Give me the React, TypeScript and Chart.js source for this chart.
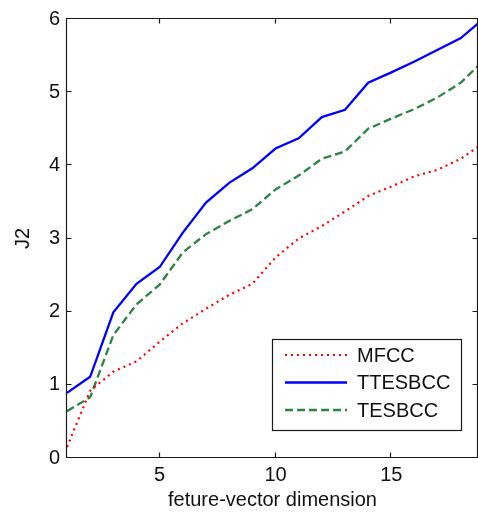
import { useEffect, useRef } from "react";
import { Chart, registerables } from "chart.js";

Chart.register(...registerables);

// Feature-vector dimension (x) and J2 separability for each feature set
const DIMS = [1, 2, 3, 4, 5, 6, 7, 8, 9, 10, 11, 12, 13, 14, 15, 16, 17, 18, 19];
const MFCC = [0.15, 0.92, 1.18, 1.32, 1.59, 1.84, 2.04, 2.23, 2.38, 2.74, 3.0, 3.17, 3.37, 3.58, 3.71, 3.85, 3.94, 4.09, 4.31];
const TTESBCC = [0.89, 1.11, 1.99, 2.38, 2.61, 3.08, 3.49, 3.76, 3.96, 4.23, 4.37, 4.66, 4.76, 5.13, 5.27, 5.42, 5.58, 5.74, 6.01];
const TESBCC = [0.64, 0.83, 1.68, 2.1, 2.37, 2.81, 3.06, 3.24, 3.4, 3.67, 3.86, 4.09, 4.19, 4.5, 4.64, 4.77, 4.93, 5.13, 5.44];

const X_MIN = 1;
const X_MAX = 18.74;
const X_TICKS = [5, 10, 15];
const Y_TICKS = [0, 1, 2, 3, 4, 5, 6];

const FONT = '"Liberation Sans", Arial, Helvetica, sans-serif';
const TICK_LEN = 5;

// Box around the axes with inward tick marks on all four sides
const framePlugin = {
  id: "frame",
  afterDatasetsDraw(chart: any) {
    const { ctx, chartArea: a, scales } = chart;
    const l = a.left - 0.5;
    const r = a.right - 0.5;
    const t = a.top - 0.5;
    const b = a.bottom - 0.5;
    ctx.save();
    ctx.strokeStyle = "#1a1a1a";
    ctx.lineWidth = 1.2;
    ctx.beginPath();
    ctx.rect(l, t, r - l, b - t);
    for (const v of X_TICKS) {
      const px = Math.round(scales.x.getPixelForValue(v)) - 0.5;
      ctx.moveTo(px, b);
      ctx.lineTo(px, b - TICK_LEN);
      ctx.moveTo(px, t);
      ctx.lineTo(px, t + TICK_LEN);
    }
    for (const v of Y_TICKS) {
      const py = Math.round(scales.y.getPixelForValue(v)) - 0.5;
      ctx.moveTo(l, py);
      ctx.lineTo(l + TICK_LEN, py);
      ctx.moveTo(r, py);
      ctx.lineTo(r - TICK_LEN, py);
    }
    ctx.stroke();
    ctx.restore();
  },
};

// Boxed legend in the lower right of the plot
const legendBoxPlugin = {
  id: "legendBox",
  afterDraw(chart: any) {
    const { ctx } = chart;
    const x0 = 272.5;
    const y0 = 339.5;
    const w = 189;
    const h = 91;
    ctx.save();
    ctx.fillStyle = "#ffffff";
    ctx.fillRect(x0, y0, w, h);
    ctx.strokeStyle = "#1a1a1a";
    ctx.lineWidth = 1.2;
    ctx.strokeRect(x0, y0, w, h);
    chart.data.datasets.forEach((ds: any, i: number) => {
      const y = 355 + i * 27.5;
      ctx.beginPath();
      ctx.strokeStyle = ds.borderColor;
      ctx.lineWidth = ds.borderWidth;
      ctx.setLineDash(ds.borderDash || []);
      ctx.moveTo(285, y);
      ctx.lineTo(347, y);
      ctx.stroke();
      ctx.setLineDash([]);
      ctx.fillStyle = "#111";
      ctx.font = `20px ${FONT}`;
      ctx.textBaseline = "middle";
      ctx.textAlign = "left";
      ctx.fillText(ds.label, 357, y + 1);
    });
    ctx.restore();
  },
};

function toPoints(values: number[]) {
  return DIMS.map((d, i) => ({ x: d, y: values[i] }));
}

export default function App() {
  const canvasRef = useRef<HTMLCanvasElement | null>(null);

  useEffect(() => {
    const canvas = canvasRef.current;
    if (!canvas) return;
    const chart = new Chart(canvas, {
      type: "line",
      data: {
        datasets: [
          {
            label: "MFCC",
            data: toPoints(MFCC),
            borderColor: "#ff0000",
            borderWidth: 2.2,
            borderDash: [2, 4],
            borderCapStyle: "butt",
            pointRadius: 0,
            tension: 0,
            fill: false,
          },
          {
            label: "TTESBCC",
            data: toPoints(TTESBCC),
            borderColor: "#0000ff",
            borderWidth: 2.3,
            pointRadius: 0,
            tension: 0,
            fill: false,
          },
          {
            label: "TESBCC",
            data: toPoints(TESBCC),
            borderColor: "#2a8442",
            borderWidth: 2.3,
            borderDash: [8, 4],
            pointRadius: 0,
            tension: 0,
            fill: false,
          },
        ],
      },
      options: {
        responsive: false,
        animation: false,
        devicePixelRatio: 1,
        layout: { padding: { top: 14, right: 0, bottom: 0, left: 0 } },
        plugins: {
          legend: { display: false },
          tooltip: { enabled: false },
        },
        scales: {
          x: {
            type: "linear",
            min: X_MIN,
            max: X_MAX,
            grid: { display: false, drawTicks: false },
            border: { display: false },
            afterBuildTicks: (scale: any) => {
              scale.ticks = X_TICKS.map((v) => ({ value: v }));
            },
            afterFit: (scale: any) => {
              scale.height = 54;
            },
            ticks: {
              color: "#111",
              font: { family: FONT, size: 20 },
              padding: 5,
              maxRotation: 0,
              callback: (v: any) => String(v),
            },
            title: {
              display: true,
              text: "feture-vector dimension",
              color: "#111",
              font: { family: FONT, size: 20 },
              padding: { top: 0, bottom: 0 },
            },
          },
          y: {
            type: "linear",
            min: 0,
            max: 6,
            grid: { display: false, drawTicks: false },
            border: { display: false },
            afterBuildTicks: (scale: any) => {
              scale.ticks = Y_TICKS.map((v) => ({ value: v }));
            },
            afterFit: (scale: any) => {
              scale.width = 67;
            },
            ticks: {
              color: "#111",
              font: { family: FONT, size: 20 },
              padding: 7,
              callback: (v: any) => String(v),
            },
            title: {
              display: true,
              text: "J2",
              color: "#111",
              font: { family: FONT, size: 20 },
              padding: { top: 11, bottom: 0 },
            },
          },
        },
      } as any,
      plugins: [framePlugin, legendBoxPlugin],
    });
    return () => chart.destroy();
  }, []);

  return (
    <div
      style={{
        position: "fixed",
        left: 0,
        top: 0,
        width: 478,
        height: 512,
        background: "#ffffff",
        overflow: "hidden",
      }}
    >
      <canvas ref={canvasRef} width={478} height={512} style={{ display: "block" }} />
    </div>
  );
}
